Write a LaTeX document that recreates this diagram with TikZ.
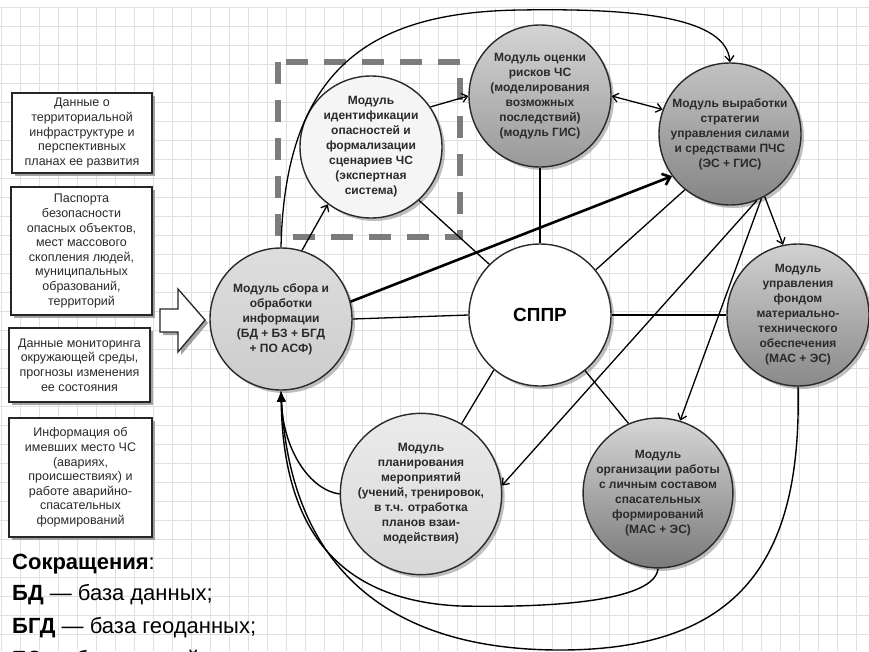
\documentclass[tikz,border=0pt]{standalone}
\usepackage{fontspec}
\setmainfont{Liberation Sans}
\usetikzlibrary{arrows.meta,shadows}
\definecolor{ink}{HTML}{2A2A2A}
\definecolor{gridc}{HTML}{E0E0E0}
\definecolor{dashc}{HTML}{7C7C7C}
\begin{document}
\begin{tikzpicture}[x=1pt,y=-1pt,
  modul/.style={circle, draw=ink, line width=1.4pt, minimum size=142pt, inner sep=0pt,
    align=center, font=\fontsize{12}{15}\selectfont\bfseries, text=ink,
    drop shadow={shadow xshift=3pt, shadow yshift=-3pt, fill=black!55, opacity=0.45}},
  srcbox/.style={rectangle, draw=black!85, line width=1.7pt, fill=white, align=center,
    font=\fontsize{12.5}{14.6}\selectfont, text=ink, inner sep=0pt,
    drop shadow={shadow xshift=3pt, shadow yshift=-3pt, fill=black!45, opacity=0.8}},
  link/.style={draw=black, line width=1.3pt},
  thin tip/.style={-{Straight Barb[length=5.5pt,width=9pt]}},
  both tips/.style={{Straight Barb[length=5.5pt,width=9pt]}-{Straight Barb[length=5.5pt,width=9pt]}},
  bold link/.style={draw=black, line width=2.6pt, -{Straight Barb[length=7pt,width=12pt]}},
  back link/.style={draw=black, line width=1.4pt, -{Latex[length=11pt,width=9pt]}},
  abbr/.style={anchor=base west, inner sep=0pt, font=\fontsize{22}{28}\selectfont, text=black}
]
\useasboundingbox (0,0) rectangle (869,651);
\begin{scope}
\clip (0,0) rectangle (869,651);
\fill[white] (0,0) rectangle (869,651);

% background grid
\foreach \gx in {1,20,...,869} \draw[gridc, line width=0.8pt] (\gx,7) -- (\gx,651);
\foreach \gy in {7,26,...,651} \draw[gridc, line width=0.8pt] (0,\gy) -- (869,\gy);

% expert-system frame
\draw[dashc, line width=5.5pt, dash pattern=on 22pt off 16pt] (278,62) rectangle (460,237);

% source data boxes
\node[srcbox, minimum width=140pt, minimum height=80pt] (src1) at (82,133)
  {Данные о\\территориальной\\инфраструктуре и\\перспективных\\планах ее развития};
\node[srcbox, minimum width=141pt, minimum height=128pt] (src2) at (81.5,251)
  {Паспорта\\безопасности\\опасных объектов,\\мест массового\\скопления людей,\\муниципальных\\образований,\\территорий};
\node[srcbox, minimum width=141pt, minimum height=74pt] (src3) at (79.5,365)
  {Данные мониторинга\\окружающей среды,\\прогнозы изменения\\ее состояния};
\node[srcbox, minimum width=143pt, minimum height=119pt] (src4) at (80.5,477.5)
  {Информация об\\имевших место ЧС\\(авариях,\\происшествиях) и\\работе аварийно-\\спасательных\\формирований};

% input block arrow
\fill[black!45, opacity=0.8] (163,312) -- (181,312) -- (181,292) -- (208,323) -- (181,355) -- (181,335) -- (163,335) -- cycle;
\filldraw[fill=white, draw=black!85, line width=1.3pt, line join=miter]
  (160,309) -- (178,309) -- (178,289) -- (205,320) -- (178,352) -- (178,332) -- (160,332) -- cycle;

% modules
\node[modul, top color=black!13, bottom color=black!20] (coll) at (281,319)
  {Модуль сбора и\\обработки\\информации\\(БД + БЗ + БГД\\+ ПО АСФ)};
\node[modul, fill=black!4] (ident) at (371,147)
  {Модуль\\идентификации\\опасностей и\\формализации\\сценариев ЧС\\(экспертная\\система)};
\node[modul, top color=black!17, bottom color=black!40] (risk) at (540,96)
  {Модуль оценки\\рисков ЧС\\(моделирования\\возможных\\последствий)\\(модуль ГИС)};
\node[modul, top color=black!24, bottom color=black!48] (strat) at (730,134)
  {Модуль выработки\\стратегии\\управления силами\\и средствами ПЧС\\(ЭС + ГИС)};
\node[modul, top color=black!18, bottom color=black!46] (mto) at (798,315)
  {Модуль\\управления\\фондом\\материально-\\технического\\обеспечения\\(МАС + ЭС)};
\node[modul, top color=black!16, bottom color=black!52] (pers) at (658,493)
  {Модуль\\организации работы\\с личным составом\\спасательных\\формирований\\(МАС + ЭС)};
\node[modul, top color=black!8, bottom color=black!15] (plan) at (421,494)
  {Модуль\\планирования\\мероприятий\\(учений, тренировок,\\в т.ч. отработка\\планов взаи-\\модействия)};
\node[modul, fill=white, font=\fontsize{19}{22}\selectfont\bfseries, text=black] (sppr) at (540,315) {СППР};

% links through the decision support core
\draw[link] (coll.east) -- (sppr.west);
\draw[link] (ident.312) -- (sppr.135);
\draw[link] (risk.south) -- (sppr.north);
\draw[link] (sppr.39) -- (strat.231);
\draw[link] (sppr.east) -- (mto.west);
\draw[link] (sppr.230) -- (plan.60);
\draw[link] (sppr.309) -- (pers.113);

% directed flows
\draw[link, thin tip] (coll.73) -- (ident.233);
\draw[link, thin tip] (ident.34) -- (risk.180);
\draw[link, both tips] (risk.0) -- (strat.160);
\draw[link, thin tip] (coll.north) .. controls (285,60) and (380,12) .. (520,10)
  .. controls (640,8) and (726,18) .. (strat.north);
\draw[bold link] (coll.14) -- (strat.216);
\draw[link, thin tip] (strat.299) -- (mto.102);
\draw[link, thin tip] (strat.296) -- (pers.73);
\draw[link, thin tip] (strat.292) -- (plan.6);

% feedback to the collection module
\draw[back link] (plan.west) .. controls (310,490) and (283,450) .. (coll.south);
\draw[back link] (pers.south) .. controls (655,600) and (560,608) .. (460,606)
  .. controls (330,600) and (283,520) .. (coll.south);
\draw[back link] (mto.south) .. controls (802,560) and (740,650) .. (560,650)
  .. controls (380,650) and (290,560) .. (coll.south);

% abbreviations
\node[abbr] (ab0) at (12,569) {\textbf{Сокращения}:};
\node[abbr] (ab1) at (12,600) {\textbf{БД} — база данных;};
\node[abbr] (ab2) at (12,633) {\textbf{БГД} — база геоданных;};
\node[abbr] (ab3) at (12,666) {\textbf{БЗ} — база знаний;};
\end{scope}
\end{tikzpicture}
\end{document}
